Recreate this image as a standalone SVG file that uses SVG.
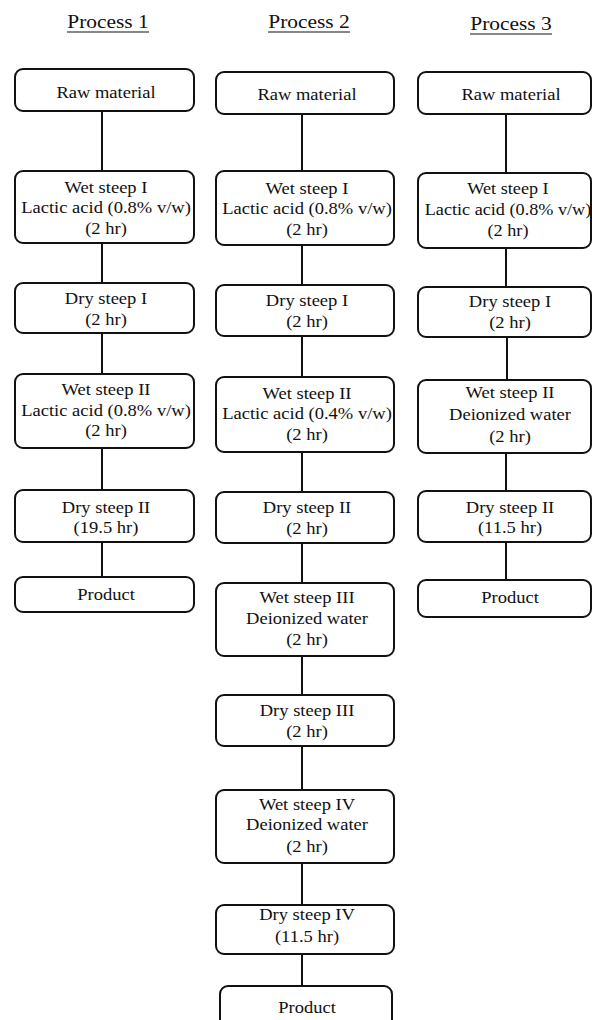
<svg xmlns="http://www.w3.org/2000/svg" width="592" height="1020" viewBox="0 0 592 1020">
<style>
.box{fill:#fff;stroke:#111;stroke-width:2}
.t{font-size:17px;fill:#111;text-anchor:middle}
.h{font-size:19.5px;fill:#111;text-anchor:middle}
.ul{stroke:#111;stroke-width:1.2}
.c{stroke:#111;stroke-width:2;fill:none}
</style>
<rect width="592" height="1020" fill="#fff"/>
<g font-family="'Liberation Serif', 'DejaVu Serif', 'Times New Roman', serif">
<g id="titles">
<g transform="translate(108,28) scale(1.1,1)"><text class="h" x="0" y="0">Process 1</text></g>
<line class="ul" x1="67" y1="32" x2="149" y2="32"/>
<g transform="translate(309,28) scale(1.1,1)"><text class="h" x="0" y="0">Process 2</text></g>
<line class="ul" x1="268" y1="32" x2="350" y2="32"/>
<g transform="translate(511,30) scale(1.1,1)"><text class="h" x="0" y="0">Process 3</text></g>
<line class="ul" x1="470" y1="34" x2="552" y2="34"/>
</g>
<g id="connectors">
<path class="c" d="M102 111V171M102 243V283M102 333V374M102 448V490M102 542V577"/>
<path class="c" d="M302 114V171M302 245V285M302 336V377M302 452V492M302 543V583M302 656V695M302 746V790M302 863V905M302 954V986"/>
<path class="c" d="M506 114V173M506 248V287M507 337V380M506 453V491M506 542V580"/>
</g>
<g id="p1_raw"><rect class="box" x="15" y="69" width="179" height="42" rx="8"/><g transform="translate(106,0) scale(1.09,1)"><text class="t" y="98">Raw material</text></g></g>
<g id="p1_wet1"><rect class="box" x="15" y="171" width="179" height="72" rx="8"/><g transform="translate(106,0) scale(1.09,1)"><text class="t" y="193">Wet steep I</text><text class="t" y="213">Lactic acid (0.8% v/w)</text><text class="t" y="234">(2 hr)</text></g></g>
<g id="p1_dry1"><rect class="box" x="15" y="283" width="179" height="50" rx="8"/><g transform="translate(106,0) scale(1.09,1)"><text class="t" y="304">Dry steep I</text><text class="t" y="325">(2 hr)</text></g></g>
<g id="p1_wet2"><rect class="box" x="15" y="374" width="179" height="74" rx="8"/><g transform="translate(106,0) scale(1.09,1)"><text class="t" y="395">Wet steep II</text><text class="t" y="416">Lactic acid (0.8% v/w)</text><text class="t" y="436">(2 hr)</text></g></g>
<g id="p1_dry2"><rect class="box" x="15" y="490" width="179" height="52" rx="8"/><g transform="translate(106,0) scale(1.09,1)"><text class="t" y="513">Dry steep II</text><text class="t" y="533">(19.5 hr)</text></g></g>
<g id="p1_prod"><rect class="box" x="15" y="577" width="179" height="35" rx="8"/><g transform="translate(106,0) scale(1.09,1)"><text class="t" y="600">Product</text></g></g>
<g id="p2_raw"><rect class="box" x="216" y="72" width="178" height="42" rx="8"/><g transform="translate(307,0) scale(1.09,1)"><text class="t" y="100">Raw material</text></g></g>
<g id="p2_wet1"><rect class="box" x="216" y="171" width="178" height="74" rx="8"/><g transform="translate(307,0) scale(1.09,1)"><text class="t" y="194">Wet steep I</text><text class="t" y="214">Lactic acid (0.8% v/w)</text><text class="t" y="235">(2 hr)</text></g></g>
<g id="p2_dry1"><rect class="box" x="216" y="285" width="178" height="51" rx="8"/><g transform="translate(307,0) scale(1.09,1)"><text class="t" y="306">Dry steep I</text><text class="t" y="327">(2 hr)</text></g></g>
<g id="p2_wet2"><rect class="box" x="216" y="377" width="178" height="75" rx="8"/><g transform="translate(307,0) scale(1.09,1)"><text class="t" y="399">Wet steep II</text><text class="t" y="419">Lactic acid (0.4% v/w)</text><text class="t" y="440">(2 hr)</text></g></g>
<g id="p2_dry2"><rect class="box" x="216" y="492" width="178" height="51" rx="8"/><g transform="translate(307,0) scale(1.09,1)"><text class="t" y="513">Dry steep II</text><text class="t" y="534">(2 hr)</text></g></g>
<g id="p2_wet3"><rect class="box" x="216" y="583" width="178" height="73" rx="8"/><g transform="translate(307,0) scale(1.09,1)"><text class="t" y="603">Wet steep III</text><text class="t" y="624">Deionized water</text><text class="t" y="645">(2 hr)</text></g></g>
<g id="p2_dry3"><rect class="box" x="216" y="695" width="178" height="51" rx="8"/><g transform="translate(307,0) scale(1.09,1)"><text class="t" y="716">Dry steep III</text><text class="t" y="737">(2 hr)</text></g></g>
<g id="p2_wet4"><rect class="box" x="216" y="790" width="178" height="73" rx="8"/><g transform="translate(307,0) scale(1.09,1)"><text class="t" y="810">Wet steep IV</text><text class="t" y="830">Deionized water</text><text class="t" y="852">(2 hr)</text></g></g>
<g id="p2_dry4"><rect class="box" x="216" y="905" width="178" height="49" rx="8"/><g transform="translate(307,0) scale(1.09,1)"><text class="t" y="920">Dry steep IV</text><text class="t" y="942">(11.5 hr)</text></g></g>
<g id="p2_prod"><rect class="box" x="220" y="986" width="172" height="48" rx="8"/><g transform="translate(307,0) scale(1.09,1)"><text class="t" y="1013">Product</text></g></g>
<g id="p3_raw"><rect class="box" x="418" y="72" width="173" height="42" rx="8"/><g transform="translate(511,0) scale(1.09,1)"><text class="t" y="100">Raw material</text></g></g>
<g id="p3_wet1"><rect class="box" x="418" y="173" width="173" height="75" rx="8"/><g transform="translate(508,0) scale(1.07,1)"><text class="t" y="194">Wet steep I</text><text class="t" y="215">Lactic acid (0.8% v/w)</text><text class="t" y="236">(2 hr)</text></g></g>
<g id="p3_dry1"><rect class="box" x="418" y="287" width="173" height="50" rx="8"/><g transform="translate(510,0) scale(1.09,1)"><text class="t" y="307">Dry steep I</text><text class="t" y="328">(2 hr)</text></g></g>
<g id="p3_wet2"><rect class="box" x="418" y="380" width="173" height="73" rx="8"/><g transform="translate(510,0) scale(1.09,1)"><text class="t" y="398">Wet steep II</text><text class="t" y="420">Deionized water</text><text class="t" y="442">(2 hr)</text></g></g>
<g id="p3_dry2"><rect class="box" x="418" y="491" width="173" height="51" rx="8"/><g transform="translate(510,0) scale(1.09,1)"><text class="t" y="513">Dry steep II</text><text class="t" y="533">(11.5 hr)</text></g></g>
<g id="p3_prod"><rect class="box" x="418" y="580" width="173" height="37" rx="8"/><g transform="translate(510,0) scale(1.09,1)"><text class="t" y="603">Product</text></g></g>
</g>
</svg>
